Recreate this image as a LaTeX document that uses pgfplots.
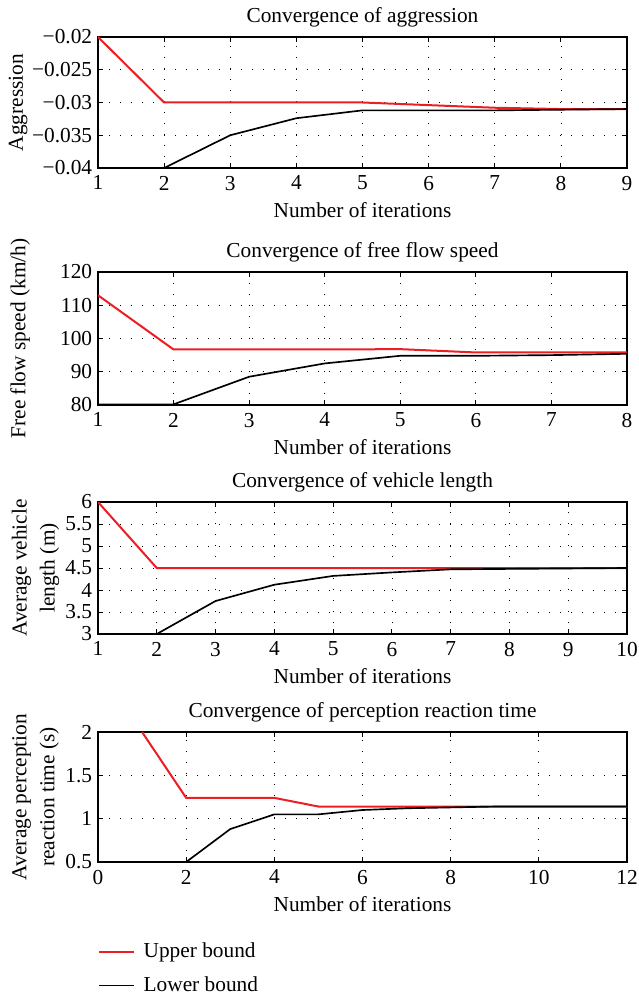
\documentclass[border=0pt]{standalone}
\usepackage{fontspec}
\setmainfont{Liberation Serif}
\usepackage{pgfplots}
\pgfplotsset{compat=1.18}
\definecolor{myred}{RGB}{235,30,36}
\newcommand{\fs}{\fontsize{12.8}{16.8}\selectfont}
\pgfplotsset{
  mystyle/.style={
    scale only axis, width=317.4pt, anchor=north west,
    tick align=inside, major tick length=3pt,
    xtick pos=both, ytick pos=both,
    grid=major,
    scaled y ticks=false, scaled x ticks=false,
    major grid style={black, line width=0.45pt, dash pattern=on 0.6pt off 6pt},
    axis line style={line width=0.7pt},
    every tick/.style={black, line width=0.6pt},
    xlabel={Number of iterations},
    title style={at={(axis description cs:0.5,1)}, anchor=center, yshift=6pt, font=\fs},
    xlabel style={at={(axis description cs:0.5,0)}, anchor=center, yshift=-25.2pt, font=\fs},
    ylabel style={anchor=center, font=\fs, align=center},
    tick label style={font=\fs},
    xticklabel style={yshift=-1.2pt},
    /pgf/number format/assume math mode=true,
  },
  upper/.style={myred, line width=1.2pt},
  lower/.style={black, line width=1.0pt},
}
\begin{document}
\begin{tikzpicture}
\path[use as bounding box] (0,0) rectangle (382.8pt,-598.8pt);
% Plot 1
\begin{axis}[mystyle, at={(58.8pt,-22.2pt)}, height=78.6pt,
  xmin=1, xmax=9, ymin=-0.04, ymax=-0.02,
  xtick={1,...,9},
  ytick={-0.04,-0.035,-0.03,-0.025,-0.02},
  yticklabels={−0.04,−0.035,−0.03,−0.025,−0.02},
  title={Convergence of aggression},
  ylabel={Aggression},
  ylabel style={at={(axis description cs:-0.151,0.5)}},
]
\addplot[upper] coordinates {(1,-0.02) (2,-0.03) (3,-0.03) (4,-0.03) (5,-0.03) (6,-0.0304) (7,-0.0308) (8,-0.031) (9,-0.031)};
\addplot[lower] coordinates {(2,-0.04) (3,-0.035) (4,-0.0324) (5,-0.0312) (6,-0.0312) (7,-0.0312) (8,-0.0311) (9,-0.031)};
\end{axis}
% Plot 2
\begin{axis}[mystyle, at={(58.8pt,-163.2pt)}, height=79.8pt,
  xmin=1, xmax=8, ymin=80, ymax=120,
  xtick={1,...,8},
  ytick={80,90,100,110,120},
  title={Convergence of free flow speed},
  ylabel={Free flow speed (km/h)},
  ylabel style={at={(axis description cs:-0.147,0.5)}},
]
\addplot[upper] coordinates {(1,113) (2,96.7) (3,96.7) (4,96.7) (5,96.8) (6,95.8) (7,95.8) (8,95.8)};
\addplot[lower] coordinates {(1,80.2) (2,80.2) (3,88.5) (4,92.5) (5,94.8) (6,94.8) (7,95.0) (8,95.4)};
\end{axis}
% Plot 3
\begin{axis}[mystyle, at={(58.8pt,-301.2pt)}, height=79.2pt,
  xmin=1, xmax=10, ymin=3, ymax=6,
  xtick={1,...,10},
  ytick={3,3.5,4,4.5,5,5.5,6},
  title={Convergence of vehicle length},
  ylabel={Average vehicle\\length (m)},
  ylabel style={at={(axis description cs:-0.118,0.5)}},
]
\addplot[upper] coordinates {(1,6) (2,4.5) (3,4.5) (4,4.5) (5,4.5) (6,4.5) (7,4.5) (8,4.5) (9,4.5) (10,4.5)};
\addplot[lower] coordinates {(2,3) (3,3.75) (4,4.12) (5,4.32) (6,4.4) (7,4.47) (8,4.48) (9,4.49) (10,4.5)};
\end{axis}
% Plot 4
\begin{axis}[mystyle, at={(58.8pt,-439.2pt)}, height=78pt,
  xmin=0, xmax=12, ymin=0.5, ymax=2,
  xtick={0,2,...,12},
  ytick={0.5,1,1.5,2},
  title={Convergence of perception reaction time},
  ylabel={Average perception\\reaction time (s)},
  ylabel style={at={(axis description cs:-0.118,0.5)}},
  legend style={at={(axis description cs:0,-0.595)}, anchor=north west, draw=none, fill=none,
    font=\fs, row sep=6pt, inner sep=0pt,
    nodes={inner xsep=5pt}},
  legend cell align=left,
  legend image code/.code={\draw[#1] (0pt,0pt) -- (21pt,0pt);},
]
\addplot[upper] coordinates {(1,2) (2,1.24) (3,1.24) (4,1.24) (5,1.14) (6,1.14) (7,1.14) (8,1.14) (9,1.14) (10,1.14) (11,1.14) (12,1.14)};
\addplot[lower] coordinates {(1,0.5) (2,0.5) (3,0.88) (4,1.05) (5,1.05) (6,1.1) (7,1.12) (8,1.13) (9,1.14) (10,1.14) (11,1.14) (12,1.14)};
\legend{Upper bound, Lower bound}
\end{axis}
\end{tikzpicture}
\end{document}
